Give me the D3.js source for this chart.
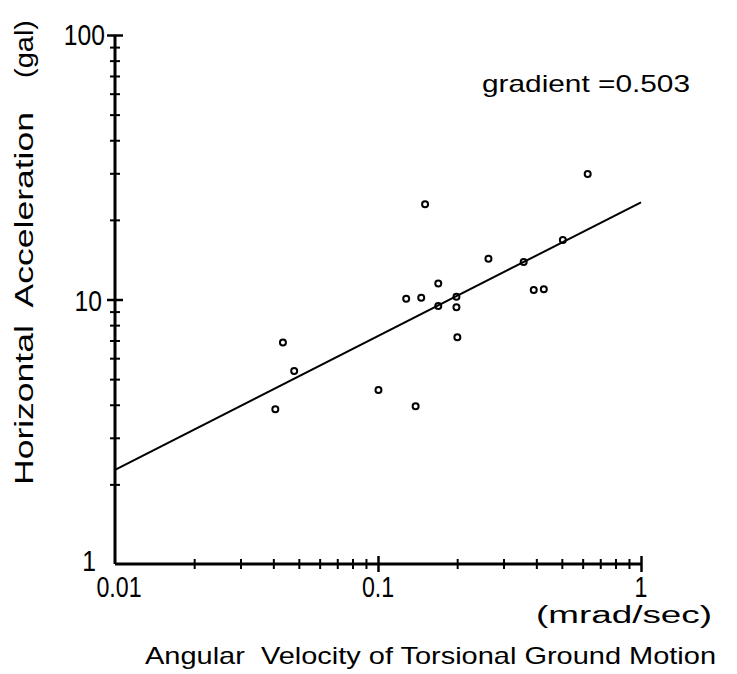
<!DOCTYPE html>
<html>
<head>
<meta charset="utf-8">
<script src="https://cdn.jsdelivr.net/npm/d3@7"></script>
<style>
  body { margin: 0; background: #fff; }
  text { fill: #000; }
</style>
</head>
<body>
<svg id="chart" width="737" height="674"></svg>
<script>
// angular velocity (mrad/sec) and horizontal acceleration (gal)
var velocity = [0.0407, 0.0435, 0.048, 0.1004, 0.139, 0.128, 0.146, 0.151, 0.1695, 0.1695,
                0.1987, 0.1987, 0.2003, 0.263, 0.358, 0.391, 0.427, 0.5045, 0.627];
var accel    = [3.85, 6.87, 5.37, 4.55, 3.95, 10.07, 10.16, 22.9, 11.5, 9.45,
                10.25, 9.34, 7.2, 14.27, 13.86, 10.86, 10.93, 16.79, 29.8];
// regression line, gradient 0.503
var fitX = [0.01, 1];
var fitY = [2.27, 23.3];

var xMajor = [0.01, 0.1, 1];
var xMajorLabels = ['0.01', '0.1', '1'];
var yMajor = [1, 10, 100];
var yMajorLabels = ['1', '10', '100'];

var margin = {left: 115, top: 35},
    width = 526, height = 529;

var svg = d3.select('#chart');
var g = svg.append('g').attr('transform', 'translate(' + margin.left + ',' + margin.top + ')');

var x = d3.scaleLog().domain([0.01, 1]).range([0, width]);
var y = d3.scaleLog().domain([1, 100]).range([height, 0]);

function minors(lo, hi) {
  var out = [];
  for (var d = lo; d < hi; d *= 10)
    for (var k = 2; k <= 9; k++) out.push(d * k);
  return out;
}

// x axis: minor ticks crossing the line
var xAxisG = g.append('g').attr('transform', 'translate(0,' + height + ')');
xAxisG.call(d3.axisBottom(x).tickValues(minors(0.01, 1)).tickSize(5).tickFormat(''));
xAxisG.selectAll('.tick line').attr('y1', -5).attr('y2', 5).style('stroke-width', 2);
var xMaj = xAxisG.append('g');
xMaj.call(d3.axisBottom(x).tickValues(xMajor.slice(1)).tickSize(8).tickFormat(''));
xMaj.selectAll('.tick line').attr('y1', -8).attr('y2', 8).style('stroke-width', 2.5);
xMaj.select('.domain').remove();
xAxisG.select('.domain').attr('d', 'M0,0H' + width).style('stroke-width', 3);

// y axis
var yAxisG = g.append('g');
yAxisG.call(d3.axisLeft(y).tickValues(minors(1, 100)).tickSize(5).tickFormat(''));
yAxisG.selectAll('.tick line').attr('x1', -5).attr('x2', 5).style('stroke-width', 2);
var yMaj = yAxisG.append('g');
yMaj.call(d3.axisLeft(y).tickValues(yMajor.slice(1)).tickSize(8).tickFormat(''));
yMaj.selectAll('.tick line').attr('x1', -8).attr('x2', 8).style('stroke-width', 2.5);
yMaj.select('.domain').remove();
yAxisG.select('.domain').attr('d', 'M0,0V' + height).style('stroke-width', 3);

var tickFont = '"Liberation Sans", Arial, sans-serif';

// tick labels, squeezed horizontally like the narrow face of the original
g.selectAll('.xlab').data(xMajor).enter().append('text')
  .attr('class', 'xlab')
  .attr('transform', function(d, i) {
    return 'translate(' + (x(d) + (i === 0 ? 4 : 0)) + ',' + (height + 33) + ') scale(0.8,1)';
  })
  .attr('text-anchor', 'middle')
  .style('font-family', tickFont).style('font-size', '29px')
  .text(function(d, i) { return xMajorLabels[i]; });

g.selectAll('.ylab').data(yMajor).enter().append('text')
  .attr('class', 'ylab')
  .attr('transform', function(d, i) {
    return 'translate(' + [-19, -13, -10][i] + ',' + (y(d) + [7, 11, 10][i]) + ') scale(0.85,1)';
  })
  .attr('text-anchor', 'end')
  .style('font-family', tickFont).style('font-size', '29px')
  .text(function(d, i) { return yMajorLabels[i]; });

// regression line
var line = d3.line().x(function(d) { return x(d[0]); }).y(function(d) { return y(d[1]); });
g.append('path')
  .datum(d3.zip(fitX, fitY))
  .attr('d', line)
  .style('fill', 'none').style('stroke', '#000').style('stroke-width', 2);

// observations
g.selectAll('.pt').data(d3.zip(velocity, accel)).enter().append('circle')
  .attr('class', 'pt')
  .attr('cx', function(d) { return x(d[0]); })
  .attr('cy', function(d) { return y(d[1]); })
  .attr('r', 3)
  .style('fill', 'none').style('stroke', '#000').style('stroke-width', 2);

// labels
var labFont = '"Liberation Sans", Arial, sans-serif';
function label(txt, px, py, len, size, rot) {
  var t = svg.append('text')
    .attr('transform', 'translate(' + px + ',' + py + ')' + (rot ? ' rotate(-90)' : ''))
    .attr('textLength', len).attr('lengthAdjust', 'spacingAndGlyphs')
    .style('font-family', labFont).style('font-size', size + 'px')
    .style('white-space', 'pre')
    .text(txt);
  return t;
}
label('gradient =0.503', 482, 92, 208, 24, false);
label('Horizontal  Acceleration', 33, 485, 373, 25, true);
label('(gal)', 33, 78, 58, 25, true);
label('(mrad/sec)', 536, 623, 176, 23, false);
label('Angular  Velocity of Torsional Ground Motion', 145, 664, 571, 24, false);
</script>
</body>
</html>
